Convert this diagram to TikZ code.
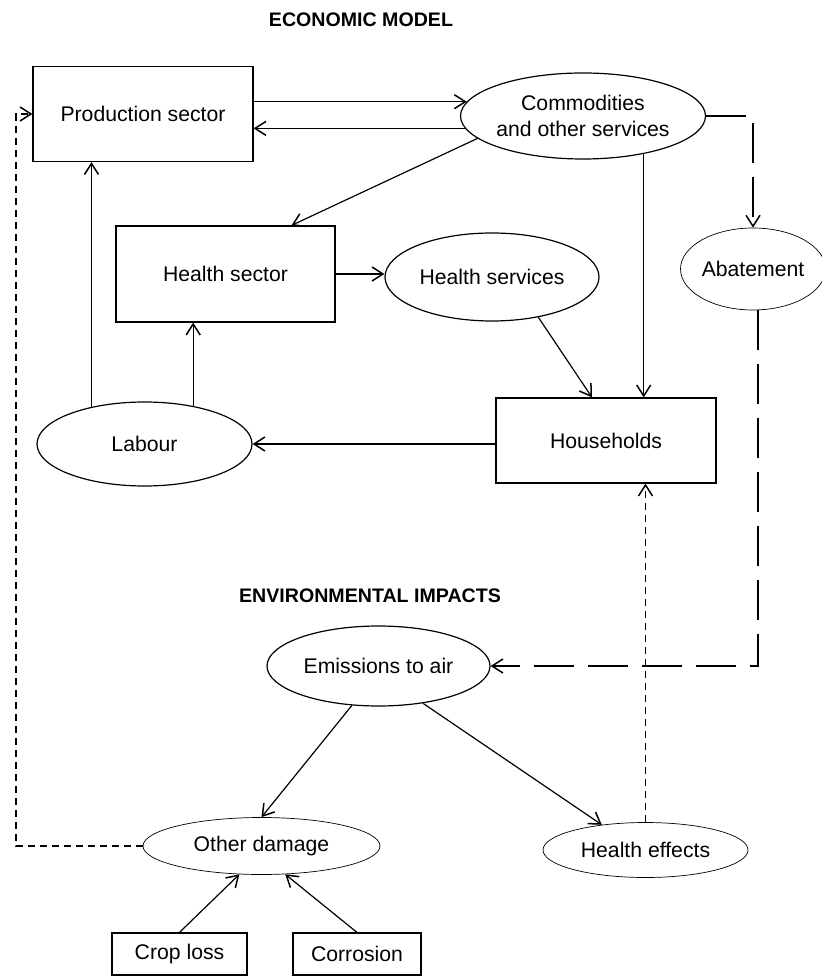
\documentclass[tikz,border=0pt]{standalone}
\usepackage{fontspec}
\setmainfont{Liberation Sans}
\usetikzlibrary{shapes.geometric,arrows.meta}

\begin{document}
\begin{tikzpicture}[x=0.5pt,y=-0.5pt,line width=0.6pt,
  font=\fontsize{10.6}{13}\selectfont,
  box/.style={rectangle,draw,inner sep=0pt},
  oval/.style={ellipse,draw,inner sep=0pt,align=center},
  faint/.style={line width=0.35pt},
  titletext/.style={font=\fontsize{9.8}{12}\selectfont\bfseries},
  >={Straight Barb[length=5.5pt,width=7pt,line width=0.75pt]},
  longdash/.style={dash pattern=on 20pt off 7pt},
  shortdash/.style={dash pattern=on 3.5pt off 2.5pt}]
\useasboundingbox (0,0) rectangle (822,977);
% economic model
\node[titletext] (econ) at (361,20) {ECONOMIC MODEL};
\node[box,minimum width=110pt,minimum height=47.5pt] (prod) at (143,114) {Production sector};
\node[oval,minimum width=107pt,minimum height=43pt] (comm) at (583,116) {Commodities\\and other services};
\node[box,minimum width=109.5pt,minimum height=48pt] (hsec) at (225.5,274) {Health sector};
\node[oval,minimum width=107pt,minimum height=44pt] (hserv) at (492,277) {Health services};
\node[oval,faint,minimum width=72pt,minimum height=41pt] (abat) at (753,269) {Abatement};
\node[box,minimum width=110pt,minimum height=42.5pt] (hh) at (606,440.5) {Households};
\node[oval,minimum width=107.5pt,minimum height=42pt] (lab) at (144.5,444) {Labour};
% environmental impacts
\node[titletext] (env) at (370,596) {ENVIRONMENTAL IMPACTS};
\node[oval,minimum width=111.5pt,minimum height=40pt] (emis) at (378.5,666) {Emissions to air};
\node[oval,faint,minimum width=118.5pt,minimum height=28.5pt] (oth) at (261.5,846) {Other damage};
\node[oval,faint,minimum width=102.5pt,minimum height=27.5pt] (heff) at (645.5,850) {Health effects};
\node[box,minimum width=67.5pt,minimum height=21pt] (crop) at (179.5,954) {Crop loss};
\node[box,minimum width=64pt,minimum height=21pt] (corr) at (357,954) {Corrosion};
\coordinate (lft) at (16,0);

\draw[->] (prod.east |- comm.173) -- (comm.173);
\draw[->] (comm.186) -- (prod.east |- comm.186);
\draw[->] (comm.192) -- ([xshift=33pt]hsec.north);
\draw[->] (comm.-32) -- (comm.-32 |- hh.north);
\draw[->] (hsec.east) -- (hsec.east -| hserv.west);
\draw[->] (hserv.-41) -- ([xshift=-7pt]hh.north);
\draw[->] (hh.west |- lab.east) -- (lab.east);
\draw[->] (lab.145) -- (lab.145 |- prod.south);
\draw[->] (lab.38) -- (lab.38 |- hsec.south);
\draw[longdash,->] (comm.east) -| (abat.north);
\draw[longdash,->] ([xshift=2.5pt]abat.south) |- (emis.east);
\draw[->] (emis.-124) -- (oth.north);
\draw[->] (emis.-40) -- (heff.150);
\draw[shortdash,faint,->] (heff.north) -- (heff.north |- hh.south);
\draw[shortdash,->] (oth.west) -- (oth.west -| lft) |- (prod.west);
\draw[->] (crop.north) -- (oth.-128);
\draw[->] (corr.north) -- (oth.-50);
\end{tikzpicture}
\end{document}
